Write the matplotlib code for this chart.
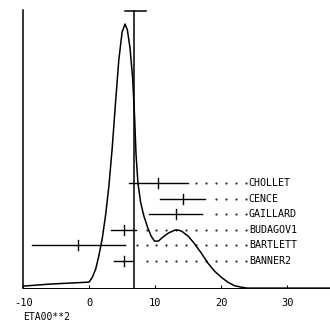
import numpy as np
from matplotlib import pyplot as plt

# curve (eta00**2 distribution)
curve_x = [-10, -6, -3, 0, 0.5, 1, 1.5, 2, 2.5, 3, 3.5, 4, 4.5, 5, 5.45, 5.8, 6.2,
           6.6, 6.9, 7.1, 7.4, 7.8, 8.3, 8.9, 9.4, 9.9, 10.5, 11, 12, 13, 13.5, 14,
           15, 15.9, 17, 18, 19, 20, 21, 22, 23, 24, 37]
curve_y = [2, 4, 5, 6, 11, 19, 33, 50, 73, 102, 140, 185, 228, 256, 264, 258, 240,
           210, 170, 135, 105, 86, 72, 60, 52, 47, 47, 50, 55, 58, 58, 57,
           52, 45, 35, 25, 17, 11, 6, 2.5, 1, 0, 0]

# experiments: name, central value, low, high, row height
names = ['CHOLLET', 'CENCE', 'GAILLARD', 'BUDAGOV1', 'BARTLETT', 'BANNER2']
centers = [10.4, 14.3, 13.1, 5.3, -1.7, 5.3]
lows = [6.0, 10.8, 9.1, 3.3, -8.6, 3.8]
highs = [15.0, 17.6, 17.1, 7.1, 5.5, 6.6]
rows = [105, 89, 74, 58, 43, 27]

vline_x = 6.8
xticks = [-10, 0, 10, 20, 30]

fig = plt.figure(figsize=(3.3, 3.23), dpi=100)
ax = fig.add_axes([0.07, 0.108, 0.93, 0.861])
ax.set_xlim(-10, 36.5)
ax.set_ylim(0, 278)

ax.plot(curve_x, curve_y, color='black', lw=1.1)

# vertical marker with cap
ax.plot([vline_x, vline_x], [0, 277], color='black', lw=1.1)
ax.plot([5.4, 8.6], [277, 277], color='black', lw=1.1)

label_x = 24.0
for name, c, lo, hi, r in zip(names, centers, lows, highs, rows):
  ax.plot([lo, hi], [r, r], color='black', lw=1.0)
  ax.plot([c, c], [r - 5, r + 5], color='black', lw=1.0)
  dots = np.arange(label_x - 0.3, hi + 0.8, -1.5)
  ax.plot(dots, [r] * len(dots), ls='none', marker='.', ms=1.0, color='black')
  ax.text(label_x + 0.2, r, name, fontsize=7.2, family='DejaVu Sans Mono',
    va='center', ha='left')

for s in ['top', 'right']:
  ax.spines[s].set_visible(False)
ax.spines['left'].set_linewidth(1.1)
ax.spines['bottom'].set_linewidth(0.7)

ax.set_yticks([])
ax.set_xticks(xticks)
ax.set_xticklabels([str(t) for t in xticks], family='DejaVu Sans Mono', fontsize=7.5)
ax.tick_params(axis='x', direction='in', length=2, pad=7)

fig.text(0.07, 0.004, 'ETA00**2', fontsize=7, family='DejaVu Sans Mono',
  ha='left', va='bottom')

plt.savefig('out.png', dpi=100)
